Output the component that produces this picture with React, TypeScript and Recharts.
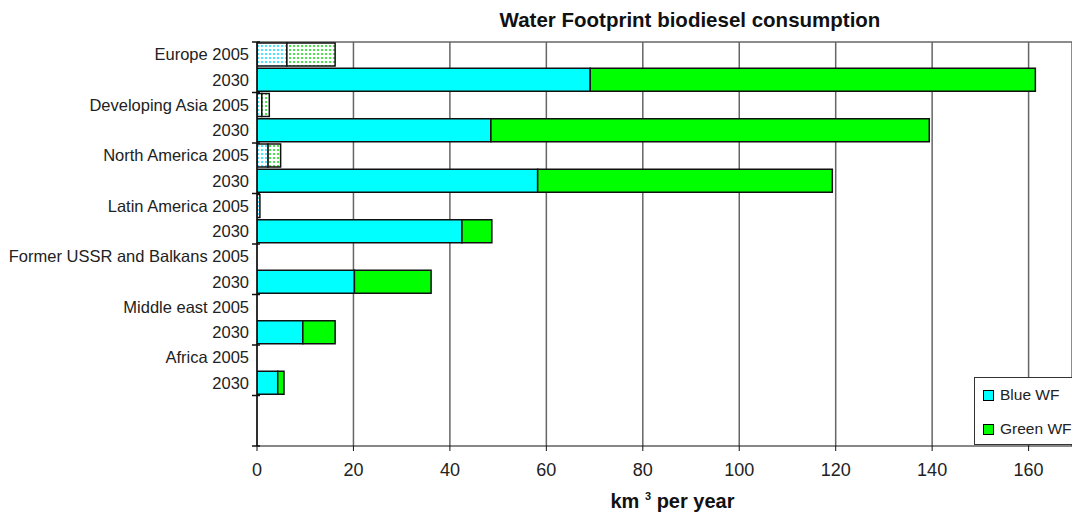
import { Bar, BarChart, CartesianGrid, Cell, Legend, XAxis, YAxis } from "recharts";

const rows = [
  "Europe 2005",
  "2030",
  "Developing Asia 2005",
  "2030",
  "North America 2005",
  "2030",
  "Latin America 2005",
  "2030",
  "Former USSR and Balkans 2005",
  "2030",
  "Middle east 2005",
  "2030",
  "Africa 2005",
  "2030",
  "",
  "",
];

// km3 per year
const blueWF = [6.2, 69.1, 1.0, 48.5, 2.3, 58.2, 0.6, 42.5, 0, 20.2, 0, 9.5, 0, 4.3, null, null];
const greenWF = [10.0, 92.3, 1.55, 90.9, 2.6, 61.1, 0, 6.2, 0, 15.9, 0, 6.7, 0, 1.3, null, null];

const xTicks = [0, 20, 40, 60, 80, 100, 120, 140, 160];

const FONT = "'Liberation Sans', Arial, sans-serif";
const BLUE = "#00ffff";
const GREEN = "#00ff00";

const data = rows.map((label, i) => ({
  id: i,
  label,
  blue: blueWF[i],
  green: greenWF[i],
}));

const isOld = (i: number) => rows[i].endsWith("2005");

// row label plus a tick mark between each region's pair of rows
function RowTick(props: any) {
  const { x, y, index, payload } = props;
  const half = payload.offset || 0;
  const axisX = x + 8;
  return (
    <g>
      <text
        x={x}
        y={y}
        dy="0.355em"
        textAnchor="end"
        fontFamily={FONT}
        fontSize={16.5}
        fill="#222"
      >
        {rows[payload.value]}
      </text>
      {index % 2 === 0 && (
        <line x1={axisX - 5} x2={axisX + 3} y1={y - half} y2={y - half} stroke="#111" strokeWidth={1.5} />
      )}
      {index === rows.length - 1 && (
        <line x1={axisX - 5} x2={axisX + 3} y1={y + half} y2={y + half} stroke="#111" strokeWidth={1.5} />
      )}
    </g>
  );
}

function AxisTitle(props: any) {
  const vb = props.viewBox;
  return (
    <text
      x={vb.x + vb.width / 2 + 8}
      y={vb.y + 62}
      textAnchor="middle"
      fontFamily={FONT}
      fontWeight="bold"
      fontSize={20}
      fill="#111"
    >
      km <tspan fontSize={11} dy={-8}>3</tspan>
      <tspan dy={8}> per year</tspan>
    </text>
  );
}

function LegendBox() {
  const items = [
    { name: "Blue WF", color: BLUE },
    { name: "Green WF", color: GREEN },
  ];
  return (
    <div style={{ fontFamily: FONT, fontSize: 15.5, color: "#222" }}>
      {items.map((it) => (
        <div
          key={it.name}
          style={{ display: "flex", alignItems: "center", height: 34 }}
        >
          <span
            style={{
              width: 9,
              height: 9,
              background: it.color,
              border: "1px solid #000",
              marginLeft: 8,
              marginRight: 6,
            }}
          />
          <span style={{ whiteSpace: "nowrap" }}>{it.name}</span>
        </div>
      ))}
    </div>
  );
}

export default function App() {
  return (
    <div
      style={{
        position: "absolute",
        left: 0,
        top: 0,
        width: 1072,
        height: 515,
        overflow: "hidden",
        background: "#fff",
      }}
    >
      <svg width={0} height={0} style={{ position: "absolute" }}>
        <defs>
          <pattern id="dotsBlue" patternUnits="userSpaceOnUse" width={4} height={4}>
            <rect width={4} height={4} fill="#fff" />
            <circle cx={2} cy={2} r={1.1} fill="#22ddff" />
          </pattern>
          <pattern id="dotsGreen" patternUnits="userSpaceOnUse" width={4} height={4}>
            <rect width={4} height={4} fill="#fff" />
            <circle cx={2} cy={2} r={1.1} fill="#22dd22" />
          </pattern>
        </defs>
      </svg>
      <div
        style={{
          position: "absolute",
          left: 690,
          top: 8,
          transform: "translateX(-50%)",
          fontFamily: FONT,
          fontWeight: "bold",
          fontSize: 20.5,
          whiteSpace: "nowrap",
          color: "#111",
        }}
      >
        Water Footprint biodiesel consumption
      </div>
      <BarChart
        width={1072}
        height={515}
        data={data}
        layout="vertical"
        barCategoryGap={1}
        margin={{ top: 42, right: 0, bottom: 0, left: 0 }}
      >
        <CartesianGrid
          stroke="#666"
          strokeWidth={1.5}
          horizontalCoordinatesGenerator={({ offset }: any) => [offset.top]}
        />
        <XAxis
          type="number"
          domain={[0, 169]}
          ticks={xTicks}
          allowDataOverflow
          height={69}
          stroke="#111"
          tickSize={5}
          tickMargin={12}
          tick={{ fontSize: 18, fill: "#222", fontFamily: FONT }}
          label={<AxisTitle />}
        />
        <YAxis
          type="category"
          dataKey="id"
          width={257}
          interval={0}
          stroke="#111"
          strokeWidth={1.5}
          tickLine={false}
          tickSize={0}
          tickMargin={8}
          tick={<RowTick />}
        />
        <Legend
          layout="vertical"
          align="center"
          verticalAlign="middle"
          content={<LegendBox />}
          wrapperStyle={{
            left: 974,
            top: 377,
            width: 110,
            height: 68,
            border: "1px solid #333",
            background: "#fff",
            boxSizing: "border-box",
          }}
        />
        <Bar
          dataKey="blue"
          name="Blue WF"
          stackId="wf"
          fill={BLUE}
          stroke="#111"
          strokeWidth={1.5}
          isAnimationActive={false}
        >
          {data.map((_, i) => (
            <Cell key={i} fill={isOld(i) ? "url(#dotsBlue)" : BLUE} />
          ))}
        </Bar>
        <Bar
          dataKey="green"
          name="Green WF"
          stackId="wf"
          fill={GREEN}
          stroke="#111"
          strokeWidth={1.5}
          isAnimationActive={false}
        >
          {data.map((_, i) => (
            <Cell key={i} fill={isOld(i) ? "url(#dotsGreen)" : GREEN} />
          ))}
        </Bar>
      </BarChart>
    </div>
  );
}
